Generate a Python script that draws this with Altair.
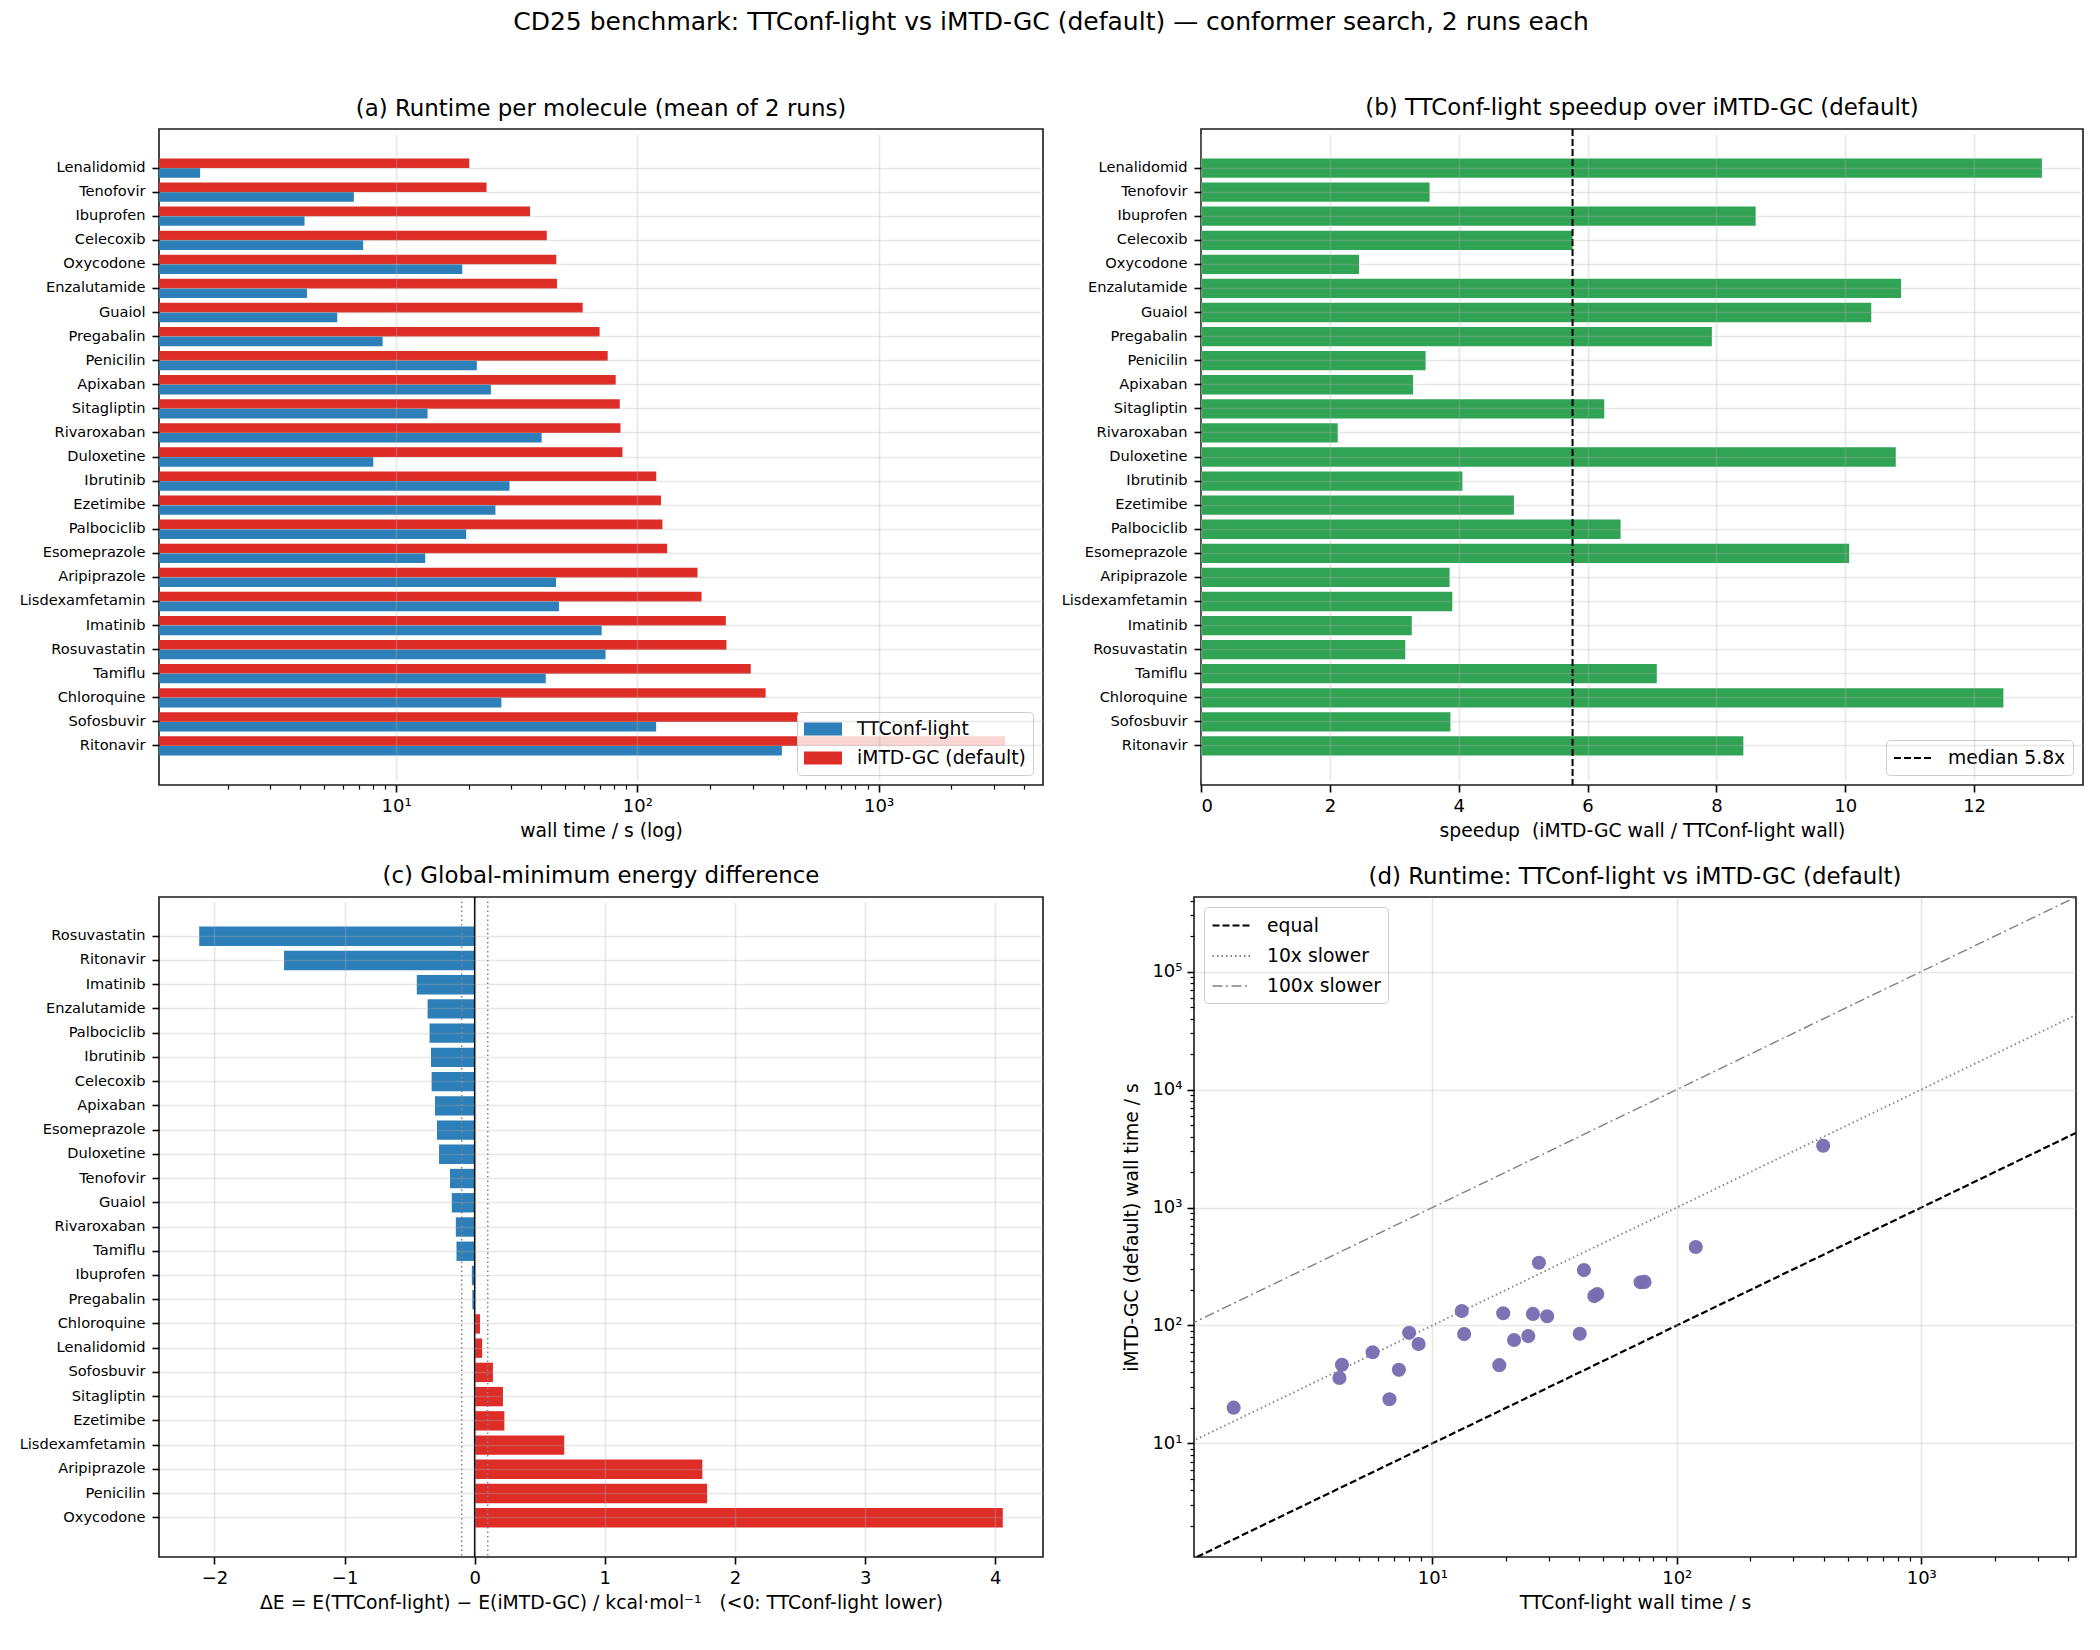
import altair as alt
import pandas as pd

FONT = "DejaVu Sans"
TT = "TTConf-light"
IMTD = "iMTD-GC (default)"
BLUE, RED, GREEN, PURPLE = "#2c7fb8", "#de2d26", "#31a354", "#756bb1"

# ---- data ----
molecules = ["Lenalidomid", "Tenofovir", "Ibuprofen", "Celecoxib", "Oxycodone",
             "Enzalutamide", "Guaiol", "Pregabalin", "Penicilin", "Apixaban",
             "Sitagliptin", "Rivaroxaban", "Duloxetine", "Ibrutinib", "Ezetimibe",
             "Palbociclib", "Esomeprazole", "Aripiprazole", "Lisdexamfetamin",
             "Imatinib", "Rosuvastatin", "Tamiflu", "Chloroquine", "Sofosbuvir",
             "Ritonavir"]
imtd_time = [20.1, 23.7, 35.9, 42.1, 46.1, 46.4, 59.3, 69.7, 75.3, 81.3,
             84.5, 85.1, 86.7, 119.7, 125.3, 127.0, 132.8, 177.5, 184.5,
             232.6, 234.0, 295.0, 340.0, 463.0, 3342.0]
ttconf_time = [1.54, 6.68, 4.17, 7.30, 18.8, 4.27, 5.70, 8.79, 21.6, 24.7,
               13.5, 40.1, 8.04, 29.5, 25.8, 19.5, 13.2, 46.0, 47.3,
               71.1, 73.8, 41.7, 27.3, 119.6, 397.0]
delta_e = [0.057, -0.19, -0.022, -0.331, 4.058, -0.362, -0.176, -0.018, 1.786, -0.305,
           0.217, -0.145, -0.274, -0.336, 0.228, -0.347, -0.29, 1.749, 0.688,
           -0.445, -2.117, -0.14, 0.041, 0.14, -1.465]

ref_factor = [1, 10, 100]
ref_label = ["equal", "10x slower", "100x slower"]
ref_x_ends = [1.0, 5000.0]
zero_line = [0.0]
tol_lines = [-0.1, 0.1]

df = pd.DataFrame({"molecule": molecules, "imtd": imtd_time, "tt": ttconf_time, "dE": delta_e})
df_long = pd.concat([
    pd.DataFrame({"molecule": molecules, "method": TT, "wall": ttconf_time}),
    pd.DataFrame({"molecule": molecules, "method": IMTD, "wall": imtd_time}),
], ignore_index=True)
order_c = [m for _, m in sorted(zip(delta_e, molecules))]
df_lines = pd.DataFrame([{"x": x, "y": f * x, "line": l}
                         for f, l in zip(ref_factor, ref_label) for x in ref_x_ends])

# ---- helpers ----
SUPN = "round(log(datum.value)/LN10)"
SUP = ("'10' + (" + SUPN + "==1 ? '\u00b9' : " + SUPN + "==2 ? '\u00b2' : " + SUPN +
       "==3 ? '\u00b3' : " + SUPN + "==4 ? '\u2074' : '\u2075')")
MINUS = "replace(format(datum.value, 'd'), '-', '\u2212')"

minor_x = [k * 10 ** e for e in range(0, 4) for k in range(2, 10) if 1.04 <= k * 10 ** e <= 4800]
minor_y = [k * 10 ** e for e in range(0, 6) for k in range(2, 10) if 1.09 <= k * 10 ** e <= 4.29e5]

RECT = "M-1.9,-0.65L1.9,-0.65L1.9,0.65L-1.9,0.65Z"
LINE = "M-1.9,0L1.9,0"


def leg(**kw):
    return alt.Legend(title=None, fillColor="rgba(255,255,255,0.8)", strokeColor="#cccccc",
                      cornerRadius=4, padding=7, labelFontSize=18.75, labelFont=FONT,
                      labelColor="black", labelLimit=400, symbolSize=400, symbolOffset=9,
                      labelOffset=24, rowPadding=9, offset=10, **kw)


def band_y(sort, h):
    return alt.Y("molecule:N", sort=sort, title=None,
                 scale=alt.Scale(paddingInner=0.2, paddingOuter=1.0, rangeMin=5.3,
                                 rangeMax=h - 5.3),
                 axis=alt.Axis(grid=True, bandPosition=0.5, labelFontSize=14.6, zindex=1,
                               labelPadding=7, labelLimit=400))


def ptitle(t):
    return alt.TitleParams(t, fontSize=22.9, font=FONT, fontWeight="normal", offset=8,
                           anchor="middle", color="black")


def minor_axis(orient):
    return alt.Axis(values=minor_x if orient == "bottom" else minor_y, labels=False,
                    grid=False, tickSize=4, tickWidth=1.2, orient=orient, title=None,
                    domain=False)


H_TOP, H_BOT = 656, 660
# half the offset between the two grouped bars: 0.2 of a band step
STEP_TOP = (H_TOP - 10.6) / (25 - 0.2 + 2.0)
HALF = 0.2 * STEP_TOP

# ---- (a) runtime ----
X_A_SCALE = alt.Scale(type="log", domain=[1.04, 4800], nice=False)
X_A_AXIS = alt.Axis(values=[10, 100, 1000], labelExpr=SUP, title="wall time / s (log)",
                    grid=True, zindex=1, orient="bottom")


def runtime_bars(method, offset, axis):
    return alt.Chart(df_long).transform_filter(alt.datum.method == method).mark_bar(
        height={"band": 0.5}, yOffset=offset
    ).encode(
        y=band_y(molecules, H_TOP),
        x=alt.X("wall:Q", scale=X_A_SCALE, axis=axis, stack=None),
        x2=alt.value(0),
        color=alt.Color("method:N", scale=alt.Scale(domain=[TT, IMTD], range=[BLUE, RED]),
                        legend=leg(orient="bottom-right", symbolType=RECT,
                                   symbolStrokeWidth=0)),
    )


bars_a_red = runtime_bars(IMTD, -HALF, X_A_AXIS)
bars_a_blue = runtime_bars(TT, HALF, None)
minor_a = alt.Chart(df_long).mark_point(opacity=0).encode(
    x=alt.X("wall:Q", axis=minor_axis("bottom"), stack=None))
panel_a = alt.layer(bars_a_red, bars_a_blue, minor_a).resolve_axis(x="independent").properties(
    width=884, height=H_TOP, title=ptitle("(a) Runtime per molecule (mean of 2 runs)"))

# ---- (b) speedup ----
base_b = alt.Chart(df).transform_calculate(speedup="datum.imtd / datum.tt")
bars_b = base_b.mark_bar(color=GREEN).encode(
    y=band_y(molecules, H_TOP),
    x=alt.X("speedup:Q", scale=alt.Scale(domain=[0, 13.69], nice=False, zero=False),
            axis=alt.Axis(values=list(range(0, 13, 2)), format="d",
                          title="speedup \u00a0(iMTD-GC wall / TTConf-light wall)",
                          grid=True, zindex=1)),
)
legb = leg(orient="bottom-right", symbolType=LINE, symbolStrokeWidth=2)
med_b = base_b.transform_aggregate(med="median(speedup)").transform_calculate(
    lab="'median ' + format(datum.med, '.1f') + 'x'"
).mark_rule(strokeWidth=2).encode(
    x="med:Q",
    stroke=alt.Stroke("lab:N", scale=alt.Scale(range=["black"]), legend=legb),
    strokeDash=alt.StrokeDash("lab:N", scale=alt.Scale(range=[[7, 3]]), legend=legb),
)
panel_b = alt.layer(bars_b, med_b).properties(
    width=882, height=H_TOP, title=ptitle("(b) TTConf-light speedup over iMTD-GC (default)"))

# ---- (c) energy difference ----
bars_c = alt.Chart(df).mark_bar().encode(
    y=band_y(order_c, H_BOT),
    x=alt.X("dE:Q", scale=alt.Scale(domain=[-2.426, 4.367], nice=False, zero=False),
            axis=alt.Axis(values=[-2, -1, 0, 1, 2, 3, 4], labelExpr=MINUS, grid=True, zindex=1,
                          title="\u0394E = E(TTConf-light) \u2212 E(iMTD-GC) / kcal\u00b7mol\u207b\u00b9 \u00a0 (<0: TTConf-light lower)")),
    color=alt.condition("datum.dE < 0", alt.value(BLUE), alt.value(RED)),
)
zero_c = alt.Chart(pd.DataFrame({"v": zero_line})).mark_rule(
    color="black", strokeWidth=1.6).encode(x="v:Q")
tol_c = alt.Chart(pd.DataFrame({"v": tol_lines})).mark_rule(
    color="#808080", strokeWidth=1.5, strokeDash=[1.5, 3]).encode(x="v:Q")
panel_c = alt.layer(bars_c, tol_c, zero_c).properties(
    width=884, height=H_BOT, title=ptitle("(c) Global-minimum energy difference"))

# ---- (d) scatter ----
legd = leg(orient="top-left", symbolType=LINE, symbolStrokeWidth=1.8)
lines_d = alt.Chart(df_lines).mark_line(clip=True).encode(
    x=alt.X("x:Q", axis=None),
    y=alt.Y("y:Q", axis=None),
    stroke=alt.Stroke("line:N", sort=ref_label,
                      scale=alt.Scale(domain=ref_label, range=["black", "#808080", "#808080"]),
                      legend=legd),
    strokeDash=alt.StrokeDash("line:N", sort=ref_label,
                              scale=alt.Scale(domain=ref_label,
                                              range=[[7, 3], [1.5, 3], [10, 3.5, 2, 3.5]]),
                              legend=legd),
    strokeWidth=alt.StrokeWidth("line:N", sort=ref_label,
                                scale=alt.Scale(domain=ref_label, range=[2.2, 1.4, 1.4]),
                                legend=None),
)
points_d = alt.Chart(df).mark_circle(size=200, color=PURPLE, opacity=0.95).encode(
    x=alt.X("tt:Q", scale=alt.Scale(type="log", domain=[1.06, 4295], nice=False),
            axis=alt.Axis(values=[10, 100, 1000], labelExpr=SUP, title="TTConf-light wall time / s",
                          grid=True, zindex=1, orient="bottom")),
    y=alt.Y("imtd:Q", scale=alt.Scale(type="log", domain=[1.09, 4.29e5], nice=False),
            axis=alt.Axis(values=[10, 100, 1000, 10000, 100000], labelExpr=SUP,
                          title="iMTD-GC (default) wall time / s", grid=True, zindex=1,
                          orient="left", titlePadding=10)),
)
minor_d = alt.Chart(df).mark_point(opacity=0).encode(
    x=alt.X("tt:Q", axis=minor_axis("bottom")),
    y=alt.Y("imtd:Q", axis=minor_axis("left")),
)
panel_d = alt.layer(lines_d, points_d, minor_d).resolve_axis(
    x="independent", y="independent").properties(
    width=882, height=H_BOT, title=ptitle("(d) Runtime: TTConf-light vs iMTD-GC (default)"))

RES = dict(color="independent", stroke="independent", strokeDash="independent",
           strokeWidth="independent")
LRES = dict(color="independent", stroke="independent", strokeDash="independent")
top = alt.hconcat(panel_a, panel_b, spacing=16).resolve_scale(**RES).resolve_legend(**LRES)
bottom = alt.hconcat(panel_c, panel_d, spacing=78).resolve_scale(**RES).resolve_legend(**LRES)

chart = alt.vconcat(top, bottom, spacing=23).resolve_scale(**RES).resolve_legend(**LRES).properties(
    title=alt.TitleParams(
        "CD25 benchmark: TTConf-light vs iMTD-GC (default) \u2014 conformer search, 2 runs each",
        fontSize=25, anchor="middle", offset=61, fontWeight="normal", font=FONT, color="black"),
    padding={"left": 10, "top": 2, "right": 8, "bottom": 8},
    background="white",
).configure(font=FONT).configure_view(
    stroke="#1a1a1a", strokeWidth=1.6
).configure_axis(
    labelFont=FONT, titleFont=FONT, labelFontSize=18, titleFontSize=18.75,
    titleFontWeight="normal", labelColor="black", titleColor="black", tickColor="black",
    tickWidth=1.6, tickSize=7, domain=False, gridColor="#b0b0b0", gridOpacity=0.3,
    gridWidth=1.6, labelPadding=5, titlePadding=6
)

chart.save("out.html", embed_options={"renderer": "svg", "actions": False})
